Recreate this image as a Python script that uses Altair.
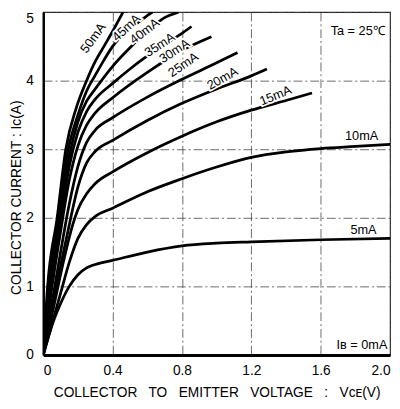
import altair as alt
import pandas as pd

# ---- data (VCE in volts, IC in amperes) ----
CURVES = ["50mA", "45mA", "40mA", "35mA", "30mA", "25mA", "20mA", "15mA", "10mA", "5mA"]

V_50 = [0, 0.025, 0.08, 0.13, 0.19, 0.25, 0.3, 0.35, 0.4, 0.46]
I_50 = [0, 1.0, 2.0, 3.0, 3.6, 4.0, 4.28, 4.5, 4.72, 5.0]

V_45 = [0, 0.03, 0.085, 0.14, 0.2, 0.25, 0.3, 0.35, 0.4, 0.5, 0.6, 0.63]
I_45 = [0, 0.95, 2.0, 2.95, 3.5, 3.85, 4.08, 4.3, 4.5, 4.75, 4.95, 5.0]

V_40 = [0, 0.035, 0.09, 0.15, 0.2, 0.25, 0.3, 0.4, 0.5, 0.6, 0.7, 0.78]
I_40 = [0, 0.9, 1.95, 2.9, 3.4, 3.7, 3.88, 4.21, 4.48, 4.72, 4.92, 5.0]

V_35 = [0, 0.04, 0.1, 0.15, 0.2, 0.25, 0.3, 0.4, 0.5, 0.6, 0.7, 0.8, 0.855]
I_35 = [0, 0.9, 1.95, 2.75, 3.25, 3.55, 3.73, 3.96, 4.17, 4.36, 4.53, 4.69, 4.79]

V_30 = [0, 0.04, 0.1, 0.15, 0.2, 0.25, 0.3, 0.4, 0.6, 0.8, 0.97]
I_30 = [0, 0.8, 1.8, 2.55, 3.05, 3.35, 3.53, 3.75, 4.12, 4.44, 4.64]

V_25 = [0, 0.05, 0.1, 0.15, 0.2, 0.25, 0.3, 0.4, 0.6, 0.8, 1.0, 1.12]
I_25 = [0, 0.75, 1.5, 2.2, 2.75, 3.1, 3.28, 3.46, 3.76, 4.02, 4.26, 4.41]

V_20 = [0, 0.05, 0.1, 0.15, 0.2, 0.25, 0.3, 0.4, 0.6, 0.8, 1.0, 1.2, 1.29]
I_20 = [0, 0.65, 1.3, 1.9, 2.45, 2.8, 2.97, 3.13, 3.42, 3.67, 3.88, 4.07, 4.17]

V_15 = [0, 0.06, 0.12, 0.17, 0.2, 0.25, 0.3, 0.4, 0.6, 0.8, 1.0, 1.2, 1.4, 1.55]
I_15 = [0, 0.7, 1.4, 1.9, 2.12, 2.35, 2.5, 2.67, 2.95, 3.19, 3.4, 3.57, 3.71, 3.82]

V_10 = [0, 0.05, 0.1, 0.15, 0.2, 0.25, 0.3, 0.4, 0.6, 0.8, 1.0, 1.2, 1.4, 1.6, 1.8, 2.0]
I_10 = [0, 0.45, 0.9, 1.35, 1.7, 1.9, 2.02, 2.14, 2.38, 2.57, 2.74, 2.88, 2.96, 3.01, 3.04, 3.07]

V_5 = [0, 0.06, 0.1, 0.15, 0.2, 0.25, 0.3, 0.4, 0.6, 0.8, 1.0, 1.2, 1.6, 2.0]
I_5 = [0, 0.5, 0.75, 1.0, 1.17, 1.27, 1.32, 1.38, 1.5, 1.59, 1.63, 1.65, 1.68, 1.70]

# curve labels (text, anchor position in data units, rotation)
LABEL_TEXT = ["50mA", "45mA", "40mA", "35mA", "30mA", "25mA", "20mA", "15mA", "10mA", "5mA"]
LABEL_V = [0.288, 0.48, 0.585, 0.672, 0.757, 0.808, 1.034, 1.34, 1.836, 1.847]
LABEL_I = [4.62, 4.77, 4.72, 4.52, 4.43, 4.23, 4.03, 3.78, 3.19, 1.82]
LABEL_ANGLE = [306, 317, 323, 327, 327, 326, 331, 338, 0, 0]

NOTE_TEXT = ["Ta = 25℃", "Iʙ = 0mA"]
NOTE_V = [1.975, 1.985]
NOTE_I = [4.72, 0.15]

X_TICKS = [0, 0.4, 0.8, 1.2, 1.6, 2.0]
Y_TICKS = [0, 1, 2, 3, 4, 5]

series = {
    "50mA": (V_50, I_50), "45mA": (V_45, I_45), "40mA": (V_40, I_40),
    "35mA": (V_35, I_35), "30mA": (V_30, I_30), "25mA": (V_25, I_25),
    "20mA": (V_20, I_20), "15mA": (V_15, I_15), "10mA": (V_10, I_10),
    "5mA": (V_5, I_5),
}
rows = []
for name in CURVES:
    vs, cs = series[name]
    for k, (v, c) in enumerate(zip(vs, cs)):
        rows.append({"curve": name, "order": k, "vce": v, "ic": c})
curves_df = pd.DataFrame(rows)

labels_df = pd.DataFrame({"text": LABEL_TEXT, "vce": LABEL_V, "ic": LABEL_I, "angle": LABEL_ANGLE})
notes_df = pd.DataFrame({"text": NOTE_TEXT, "vce": NOTE_V, "ic": NOTE_I})

FONT = "Liberation Sans"
GAP = "\u00a0\u00a0 "

x_enc = alt.X(
    "vce:Q",
    scale=alt.Scale(domain=[0, 2.0], nice=False),
    axis=alt.Axis(
        values=X_TICKS,
        labelExpr="datum.value == 0 ? '0' : format(datum.value, '.1f')",
        title="COLLECTOR" + GAP + "TO" + GAP + "EMITTER" + GAP + "VOLTAGE" + GAP + ":" + GAP + "Vᴄᴇ(V)",
        grid=True, gridDash=[9, 3, 2, 3], gridColor="#444", gridWidth=0.8,
        ticks=False, tickSize=0, labelPadding=9, labelFlush=True,
        domainWidth=3, domainColor="black",
        titlePadding=8, labelFont=FONT, titleFont=FONT,
        labelFontSize=14, titleFontSize=14, titleFontWeight="normal",
        labelColor="black", titleColor="black",
    ),
)
y_enc = alt.Y(
    "ic:Q",
    scale=alt.Scale(domain=[0, 5], nice=False),
    axis=alt.Axis(
        values=Y_TICKS, format="d",
        labelBaseline={"condition": {"test": "datum.value == 5", "value": "top"}, "value": "middle"},
        title="COLLECTOR CURRENT : Iᴄ(A)",
        grid=True, gridDash=[9, 3, 2, 3], gridColor="#444", gridWidth=0.8,
        ticks=False, tickSize=0, labelPadding=10,
        domainWidth=2.5, domainColor="black",
        titlePadding=2, titleY=189, labelFont=FONT, titleFont=FONT,
        labelFontSize=14, titleFontSize=14, titleFontWeight="normal",
        labelColor="black", titleColor="black",
    ),
)

lines = alt.Chart(curves_df).mark_line(
    interpolate="monotone", color="black", strokeWidth=2.8, clip=True
).encode(x=x_enc, y=y_enc, detail="curve:N", order="order:Q")

halo = alt.Chart(labels_df).mark_text(
    font=FONT, fontSize=13, color="white", stroke="white", strokeWidth=3.5
).encode(x="vce:Q", y="ic:Q", text="text:N", angle=alt.Angle("angle:Q", scale=None))

label_text = alt.Chart(labels_df).mark_text(
    font=FONT, fontSize=13, color="black"
).encode(x="vce:Q", y="ic:Q", text="text:N", angle=alt.Angle("angle:Q", scale=None))

notes = alt.Chart(notes_df).mark_text(
    font=FONT, fontSize=13, color="black", align="right"
).encode(x="vce:Q", y="ic:Q", text="text:N")

chart = alt.layer(lines, halo, label_text, notes).properties(
    width=354, height=350,
    autosize=alt.AutoSizeParams(type="none"),
    padding={"left": 36, "top": 0, "right": 2, "bottom": 51},
    background="white",
).configure_view(stroke="#222", strokeWidth=1.2)

chart.save("out.html", embed_options={"renderer": "svg", "actions": False})
